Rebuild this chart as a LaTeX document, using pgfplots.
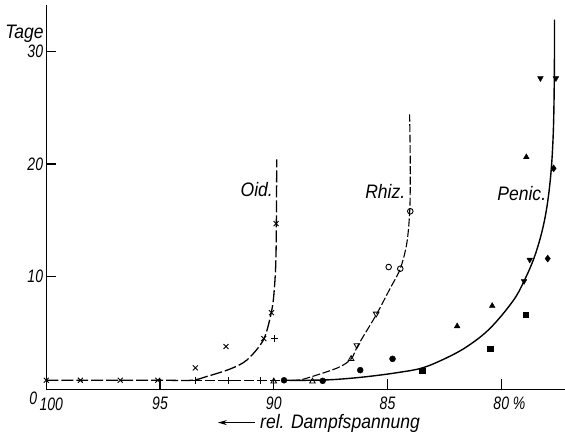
\documentclass[border=0pt]{standalone}
\usepackage{fontspec}
\setmainfont{Liberation Sans}[FakeStretch=0.9]
\newfontfamily\condfont{Liberation Sans}[FakeStretch=0.78]
\usepackage{pgfplots}
\pgfplotsset{compat=1.18}
\usetikzlibrary{arrows.meta}
\newcommand{\lf}{\fontsize{19.5}{21}\selectfont\itshape}
\newcommand{\tf}{\condfont\fontsize{18}{20}\selectfont\itshape}
\begin{document}
\begin{tikzpicture}
\begin{axis}[
  scale only axis, width=519pt, height=384.5pt,
  x dir=reverse, xmin=77.2, xmax=100, ymin=0, ymax=34.1,
  axis x line=bottom, axis y line=left,
  axis line style={-, line width=1.5pt, black},
  xtick={100,95,90,85,80},
  xticklabels={,95,90,85,{80\rlap{\ \%}}},
  ytick={0,10,20,30},
  yticklabels={,10,20,30},
  tick align=inside, major tick length=10pt,
  tick style={line width=1.2pt, black},
  tick label style={font=\tf, inner sep=0pt},
  /pgf/number format/assume math mode=true,
  xticklabel style={anchor=center, yshift=-14pt},
  yticklabel style={anchor=east, xshift=-3pt},
  xlabel={\tikz[baseline=-0.6ex]\draw[-{Stealth[length=9pt,width=5pt]},line width=1pt] (1.3cm,0)--(0,0);\ rel. Dampfspannung},
  xlabel style={font=\lf, inner sep=0pt, at={(axis description cs:0.525,-0.1027)}, anchor=base},
  clip=false,
]
% curves
\addplot[line width=1.3pt, dash pattern=on 12pt off 3pt, smooth, tension=0.5] coordinates {
 (100,0.8)(95,0.8)(93.6,0.8)(92.94,1.14)(91.92,1.8)(91.18,2.6)(90.45,4.4)(90.1,6.9)(89.98,8.8)(89.9,12.1)(89.87,20.4)};
\addplot[line width=1.3pt, dash pattern=on 10pt off 3pt] coordinates {(93.6,0.8)(89.5,0.8)};
\addplot[line width=1.1pt, dash pattern=on 8pt off 2.5pt, smooth, tension=0.5] coordinates {
 (89.2,0.8)(88.7,0.9)(87.2,1.9)(86.6,2.7)(86.3,3.9)(85.5,6.6)(84.9,8.9)(84.44,10.7)(84.15,13)(84.02,16)(84.0,20)(84.03,24.4)};
\addplot[line width=1.4pt, smooth, tension=0.6] coordinates {
 (89.5,0.8)(88.5,0.8)(87.5,0.85)(86.5,1.0)(85.5,1.22)(84.5,1.5)(83.5,1.88)(82.5,2.7)(81.5,3.8)(80.5,5.4)(79.5,7.8)(79.0,9.6)(78.5,12.0)(78.1,15.0)(77.85,18.5)(77.72,22.5)(77.67,27.5)(77.66,32.8)};
% Oid markers
\addplot[only marks, mark=x, mark size=3.5pt, line width=0.9pt] coordinates {
 (100,0.8)(98.5,0.8)(96.75,0.8)(95.1,0.8)(93.45,1.9)(92.1,3.8)(90.44,4.5)(90.1,6.8)(89.9,14.7)};
\addplot[only marks, mark=+, mark size=3.5pt, line width=0.9pt] coordinates {
 (93.45,0.8)(92.0,0.8)(90.6,0.8)(89.98,4.5)};
% Rhiz markers
\addplot[only marks, mark=triangle, mark size=3.2pt, line width=0.9pt, mark options={fill=white}] coordinates {
 (90.0,0.7)(88.3,0.7)(86.6,2.7)};
\addplot[only marks, mark=triangle, mark size=3.2pt, line width=0.9pt, mark options={fill=white, rotate=180}] coordinates {
 (86.35,3.9)(85.5,6.7)};
\addplot[only marks, mark=o, mark size=2.8pt, line width=0.9pt, mark options={fill=white}] coordinates {
 (84.95,10.85)(84.44,10.7)(84.0,15.8)};
% Penic markers
\addplot[only marks, mark=*, mark size=3pt] coordinates {
 (89.55,0.8)(87.85,0.75)(86.2,1.7)(84.78,2.7)};
\addplot[only marks, mark=square*, mark size=2.7pt] coordinates {
 (83.48,1.67)(80.48,3.6)(78.94,6.6)};
\addplot[only marks, mark=triangle*, mark size=3.3pt] coordinates {
 (81.94,5.6)(80.4,7.4)(78.9,20.6)};
\addplot[only marks, mark=triangle*, mark size=3.3pt, mark options={rotate=180}] coordinates {
 (79.0,9.6)(78.75,11.5)(78.28,27.6)(77.6,27.6)};
\addplot[only marks, mark=diamond*, mark size=3.5pt] coordinates {
 (77.96,11.6)(77.7,19.6)};
% labels
\node[font=\lf] at (axis cs:90.75,17.7) {Oid.};
\node[font=\lf] at (axis cs:85.1,17.6) {Rhiz.};
\node[font=\lf] at (axis cs:79.1,17.4) {Penic.};
\node[font=\lf] at (rel axis cs:-0.042,0.925) {Tage};
\node[font=\tf, inner sep=0pt, anchor=east] at (rel axis cs:0,0) [xshift=-9pt, yshift=-9pt] {0};
\node[font=\tf, inner sep=0pt, anchor=center] at (rel axis cs:0,0) [xshift=5pt, yshift=-15pt] {100};
\end{axis}
\pgfresetboundingbox
\useasboundingbox ([xshift=-46.3pt,yshift=-50.5pt]current axis.south west) rectangle ([yshift=5pt]current axis.north east);
\end{tikzpicture}
\end{document}
